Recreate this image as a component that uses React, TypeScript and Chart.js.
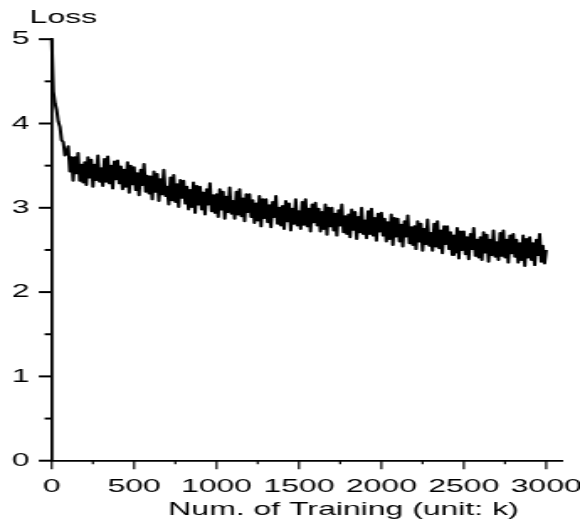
import React, { useEffect, useRef } from "react";
import { Chart, registerables } from "chart.js";

Chart.register(...registerables);

// Loss values, one every 10k training steps (0 .. 3000)
const LOSS: number[] = [
  5.0, 4.38, 4.24, 4.16, 4.02, 3.96, 3.8, 3.78, 3.62, 3.66,
  3.73, 3.43, 3.6, 3.32, 3.6, 3.41, 3.65, 3.32, 3.51, 3.3,
  3.54, 3.27, 3.6, 3.36, 3.57, 3.25, 3.51, 3.33, 3.62, 3.31,
  3.47, 3.26, 3.58, 3.31, 3.61, 3.29, 3.5, 3.23, 3.55, 3.34,
  3.56, 3.29, 3.49, 3.22, 3.45, 3.25, 3.54, 3.18, 3.5, 3.28,
  3.48, 3.21, 3.41, 3.15, 3.45, 3.27, 3.52, 3.19, 3.38, 3.17,
  3.37, 3.1, 3.43, 3.19, 3.4, 3.08, 3.34, 3.16, 3.45, 3.14,
  3.25, 3.04, 3.36, 3.09, 3.39, 3.07, 3.28, 3.01, 3.33, 3.12,
  3.32, 3.05, 3.25, 2.98, 3.21, 3.01, 3.3, 2.94, 3.26, 3.04,
  3.25, 2.98, 3.18, 2.92, 3.22, 3.04, 3.29, 2.96, 3.15, 2.94,
  3.16, 2.89, 3.22, 2.98, 3.19, 2.87, 3.13, 2.95, 3.24, 2.93,
  3.08, 2.87, 3.19, 2.92, 3.22, 2.9, 3.11, 2.84, 3.16, 2.95,
  3.16, 2.89, 3.09, 2.82, 3.05, 2.85, 3.14, 2.78, 3.1, 2.88,
  3.1, 2.83, 3.03, 2.77, 3.07, 2.89, 3.14, 2.81, 3.0, 2.79,
  3.02, 2.75, 3.08, 2.84, 3.05, 2.73, 2.99, 2.81, 3.1, 2.79,
  2.96, 2.75, 3.07, 2.8, 3.1, 2.78, 2.99, 2.72, 3.04, 2.83,
  3.06, 2.79, 2.99, 2.72, 2.95, 2.75, 3.04, 2.68, 3.0, 2.78,
  3.0, 2.73, 2.93, 2.67, 2.97, 2.79, 3.04, 2.71, 2.9, 2.69,
  2.92, 2.65, 2.98, 2.74, 2.95, 2.63, 2.89, 2.71, 3.0, 2.69,
  2.85, 2.64, 2.96, 2.69, 2.99, 2.67, 2.88, 2.61, 2.93, 2.72,
  2.94, 2.67, 2.87, 2.6, 2.83, 2.63, 2.92, 2.56, 2.88, 2.66,
  2.87, 2.6, 2.8, 2.54, 2.84, 2.66, 2.91, 2.58, 2.77, 2.56,
  2.78, 2.51, 2.84, 2.6, 2.81, 2.49, 2.75, 2.57, 2.86, 2.55,
  2.7, 2.49, 2.81, 2.54, 2.84, 2.52, 2.73, 2.46, 2.78, 2.57,
  2.78, 2.51, 2.71, 2.44, 2.67, 2.47, 2.76, 2.4, 2.72, 2.5,
  2.72, 2.45, 2.65, 2.39, 2.69, 2.51, 2.76, 2.43, 2.62, 2.41,
  2.65, 2.38, 2.71, 2.47, 2.68, 2.36, 2.62, 2.44, 2.73, 2.42,
  2.59, 2.38, 2.7, 2.43, 2.73, 2.41, 2.62, 2.35, 2.67, 2.46,
  2.69, 2.42, 2.62, 2.35, 2.58, 2.38, 2.67, 2.31, 2.63, 2.41,
  2.65, 2.38, 2.58, 2.32, 2.62, 2.44, 2.69, 2.36, 2.55, 2.34,
  2.5,
];
const STEP_K = 10; // spacing of the readings, in k
const TRAINING = LOSS.map((_, i) => i * STEP_K);

const X_TICKS = [0, 500, 1000, 1500, 2000, 2500, 3000];
const X_TICK_MARKS = [0, 250, 500, 750, 1000, 1250, 1500, 1750, 2000, 2250, 2500, 2750, 3000];
const Y_TICKS = [0, 1, 2, 3, 4, 5];
const Y_TICK_MARKS = [0, 0.5, 1, 1.5, 2, 2.5, 3, 3.5, 4, 4.5, 5];
const Y_TITLE = "Loss";
const X_TITLE = "Num. of Training (unit: k)";

const W = 345; // internal width, stretched horizontally to 580 px
const H = 523;
const STRETCH = 580 / W;
const FONT = "'Liberation Sans', Arial, Helvetica, sans-serif";

const decorPlugin = {
  id: "decor",
  afterDraw(chart: any) {
    const { ctx, chartArea, scales } = chart;
    const xs = scales.x;
    const ys = scales.y;
    ctx.save();
    ctx.strokeStyle = "#000";
    ctx.lineCap = "butt";
    ctx.lineWidth = 2;
    for (const v of Y_TICK_MARKS) {
      const py = ys.getPixelForValue(v);
      const len = Number.isInteger(v) ? 7.7 : 4.2;
      ctx.beginPath();
      ctx.moveTo(chartArea.left - len, py);
      ctx.lineTo(chartArea.left, py);
      ctx.stroke();
    }
    ctx.lineWidth = 1.2;
    for (const v of X_TICK_MARKS) {
      const px = xs.getPixelForValue(v);
      const len = v % 500 === 0 ? 8.5 : 3.5;
      ctx.beginPath();
      ctx.moveTo(px, chartArea.bottom);
      ctx.lineTo(px, chartArea.bottom + len);
      ctx.stroke();
    }
    ctx.fillStyle = "#000";
    ctx.font = `19px ${FONT}`;
    ctx.textBaseline = "alphabetic";
    ctx.textAlign = "left";
    ctx.fillText(Y_TITLE, 17.6, 22.7);
    ctx.textAlign = "center";
    ctx.fillText(X_TITLE, 204.3, 515);
    ctx.restore();
  },
};

export default function App() {
  const ref = useRef<HTMLCanvasElement | null>(null);
  useEffect(() => {
    if (!ref.current) return;
    const chart = new Chart(ref.current, {
      type: "line",
      data: {
        datasets: [
          {
            data: TRAINING.map((x, i) => ({ x, y: LOSS[i] })),
            borderColor: "#000",
            borderWidth: 2,
            borderJoinStyle: "round",
            pointRadius: 0,
            tension: 0,
            fill: false,
            clip: false,
          },
        ],
      },
      options: {
        responsive: false,
        animation: false,
        devicePixelRatio: 1,
        layout: { padding: { left: 0, top: 39.2, right: 10.3, bottom: 0 } },
        plugins: { legend: { display: false }, tooltip: { enabled: false } },
        scales: {
          x: {
            type: "linear",
            min: 0,
            max: 3100,
            afterBuildTicks: (s: any) => {
              s.ticks = X_TICKS.map((v) => ({ value: v }));
            },
            afterFit: (s: any) => {
              s.height = H - 460.7;
              s.paddingLeft = 0;
              s.paddingRight = 0;
            },
            grid: { display: false, drawTicks: false },
            border: { display: true, color: "#000", width: 1.8 },
            ticks: {
              color: "#000",
              font: { family: FONT, size: 19 },
              padding: 15,
              maxRotation: 0,
              autoSkip: false,
              callback: (v: any) => String(v),
            },
          },
          y: {
            type: "linear",
            min: 0,
            max: 5,
            afterBuildTicks: (s: any) => {
              s.ticks = Y_TICKS.map((v) => ({ value: v }));
            },
            afterFit: (s: any) => {
              s.width = 30.75;
              s.paddingTop = 0;
              s.paddingBottom = 0;
            },
            grid: { display: false, drawTicks: false },
            border: { display: true, color: "#000", width: 1.8 },
            ticks: {
              color: "#000",
              font: { family: FONT, size: 19 },
              padding: 13.3,
              callback: (v: any) => String(v),
            },
          },
        },
      },
      plugins: [decorPlugin],
    });
    return () => chart.destroy();
  }, []);

  return (
    <div
      style={{
        position: "absolute",
        left: 0,
        top: 0,
        width: 580,
        height: H,
        overflow: "hidden",
        background: "#fff",
      }}
    >
      <div style={{ width: W, height: H, transform: `scaleX(${STRETCH})`, transformOrigin: "0 0" }}>
        <canvas ref={ref} width={W} height={H} style={{ display: "block" }} />
      </div>
    </div>
  );
}
